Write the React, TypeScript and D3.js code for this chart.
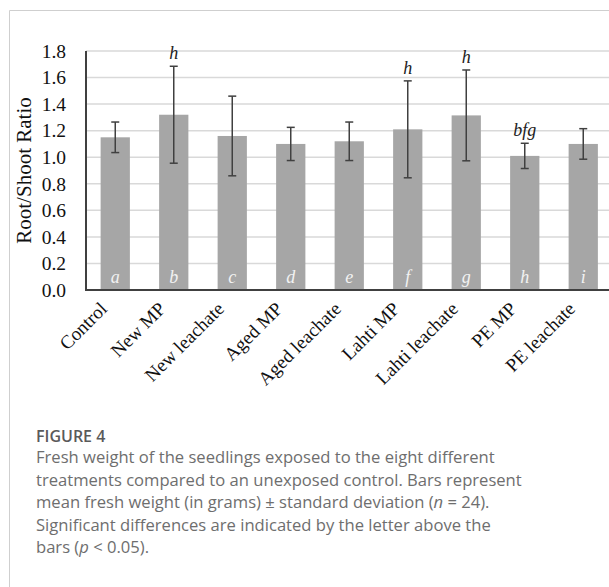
import * as d3 from "d3";

const categories = [
  "Control",
  "New MP",
  "New leachate",
  "Aged MP",
  "Aged leachate",
  "Lahti MP",
  "Lahti leachate",
  "PE MP",
  "PE leachate",
];
const means = [1.15, 1.32, 1.16, 1.1, 1.12, 1.21, 1.315, 1.01, 1.1];
const sds = [0.115, 0.365, 0.3, 0.125, 0.145, 0.365, 0.342, 0.095, 0.115];
const barLetters = ["a", "b", "c", "d", "e", "f", "g", "h", "i"];
const sigLetters = ["", "h", "", "", "", "h", "h", "bfg", ""];
const yTicks = [0, 0.2, 0.4, 0.6, 0.8, 1.0, 1.2, 1.4, 1.6, 1.8];

const W = 609;
const H = 587;
const margin = { top: 51, left: 86, bottom: 290 };

const serif = "'Liberation Serif', 'Times New Roman', serif";
const sans = "'Open Sans', 'Noto Sans', sans-serif";

export default function App() {
  const x = d3
    .scaleBand()
    .domain(categories)
    .range([margin.left, margin.left + 9 * 58.5])
    .paddingInner(0.5)
    .paddingOuter(0.25);

  const y = d3.scaleLinear().domain([0, 1.8]).range([margin.bottom, margin.top]);
  const bw = x.bandwidth();

  const rows = categories.map((c, i) => ({
    c,
    m: means[i],
    sd: sds[i],
    letter: barLetters[i],
    sig: sigLetters[i],
  }));

  return (
    <svg
      width={W}
      height={H}
      style={{ position: "absolute", left: 0, top: 0, background: "#fff" }}
    >
      {/* frame */}
      <line x1={9.5} y1={10.5} x2={W} y2={10.5} stroke="#cfcfcf" />
      <line x1={9.5} y1={10.5} x2={9.5} y2={H} stroke="#cfcfcf" />

      {/* gridlines */}
      {yTicks.slice(1).map((t) => (
        <line
          key={t}
          x1={margin.left}
          x2={W}
          y1={y(t)}
          y2={y(t)}
          stroke="#d9d9d9"
          strokeWidth={1.5}
        />
      ))}

      {/* tick labels */}
      {yTicks.map((t) => (
        <text
          key={"l" + t}
          x={66}
          y={y(t)}
          dy="0.35em"
          textAnchor="end"
          fontFamily={serif}
          fontSize={19.5}
          fill="#111"
        >
          {t.toFixed(1)}
        </text>
      ))}

      <text
        transform={`translate(31,${(margin.top + margin.bottom) / 2}) rotate(-90)`}
        textAnchor="middle"
        fontFamily={serif}
        fontSize={21}
        fill="#111"
      >
        Root/Shoot Ratio
      </text>

      {/* bars */}
      {rows.map((d) => {
        const bx = x(d.c)!;
        const cx = bx + bw / 2;
        const top = y(d.m + d.sd);
        const bot = y(d.m - d.sd);
        return (
          <g key={d.c}>
            <rect
              x={bx}
              y={y(d.m)}
              width={bw}
              height={y(0) - y(d.m)}
              fill="#a6a6a6"
            />
            <line x1={cx} x2={cx} y1={top} y2={bot} stroke="#404040" strokeWidth={1.5} />
            <line x1={cx - 4} x2={cx + 4} y1={top} y2={top} stroke="#404040" strokeWidth={1.5} />
            <line x1={cx - 4} x2={cx + 4} y1={bot} y2={bot} stroke="#404040" strokeWidth={1.5} />
            <text
              x={cx}
              y={283}
              textAnchor="middle"
              fontFamily={serif}
              fontStyle="italic"
              fontSize={18}
              fill="#f2f2f2"
            >
              {d.letter}
            </text>
            {d.sig && (
              <text
                x={cx}
                y={top - 7}
                textAnchor="middle"
                fontFamily={serif}
                fontStyle="italic"
                fontSize={18}
                fill="#222"
              >
                {d.sig}
              </text>
            )}
            <text
              transform={`translate(${cx - 7},${margin.bottom + 20}) rotate(-45)`}
              textAnchor="end"
              fontFamily={serif}
              fontSize={19}
              fill="#111"
            >
              {d.c}
            </text>
          </g>
        );
      })}

      {/* axes */}
      <line
        x1={margin.left}
        x2={margin.left}
        y1={margin.top}
        y2={margin.bottom + 1}
        stroke="#404040"
        strokeWidth={2}
      />
      <line
        x1={margin.left - 1}
        x2={W}
        y1={margin.bottom}
        y2={margin.bottom}
        stroke="#404040"
        strokeWidth={2}
      />

      {/* caption */}
      <text x={36} y={442} fontFamily={sans} fontSize={16} fontWeight={600} fill="#5a5a5a">
        FIGURE 4
      </text>
      <g fontFamily={sans} fontSize={16.6} fill="#6e6e6e">
        <text x={36} y={463}>
          Fresh weight of the seedlings exposed to the eight different
        </text>
        <text x={36} y={486}>
          treatments compared to an unexposed control. Bars represent
        </text>
        <text x={36} y={508}>
          mean fresh weight (in grams) ± standard deviation (
          <tspan fontStyle="italic">n</tspan> = 24).
        </text>
        <text x={36} y={531}>
          Significant differences are indicated by the letter above the
        </text>
        <text x={36} y={553}>
          bars (<tspan fontStyle="italic">p</tspan> &lt; 0.05).
        </text>
      </g>
    </svg>
  );
}
